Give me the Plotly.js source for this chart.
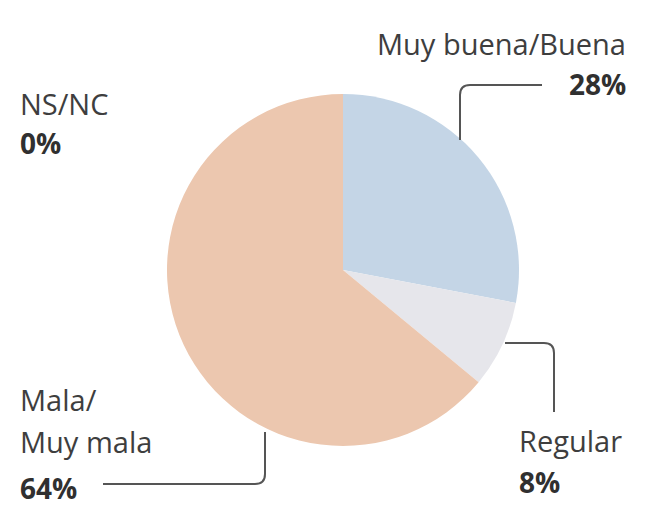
<!DOCTYPE html>
<html>
<head>
<meta charset="utf-8">
<script src="https://cdn.plot.ly/plotly-3.0.1.min.js"></script>
<style>
  body { margin: 0; background: #fff; }
  #chart { width: 657px; height: 510px; }
</style>
</head>
<body>
<div id="chart"></div>
<script>
// survey answers, clockwise from 12 o'clock
const categories = ["Muy buena/Buena", "Regular", "Mala/Muy mala", "NS/NC"];
const values = [28, 8, 64, 0];
const sliceColors = ["#c4d5e6", "#e6e6eb", "#ecc7af"];

// label placement (px from top-left) and the line breaks of each name
const nameLines = [["Muy buena/Buena"], ["Regular"], ["Mala/", "Muy mala"], ["NS/NC"]];
const labelPos = [
  { x: 628, y: 43, anchor: "right", step: 41 },
  { x: 517, y: 440, anchor: "left", step: 42 },
  { x: 18, y: 399, anchor: "left", step: 42 },
  { x: 18, y: 103, anchor: "left", step: 40 },
];

// connector lines, drawn with a rounded elbow
const connectors = [
  "M 542 85 L 470 85 Q 460 85 460 95 L 460 140",
  "M 505 343 L 544 343 Q 554 343 554 353 L 554 412",
  "M 103 484 L 255 484 Q 265 484 265 474 L 265 432",
];

const W = 657, H = 510;
const cx = 343, cy = 270, r = 176;

const annotations = [];
categories.forEach((cat, i) => {
  const p = labelPos[i];
  const lines = nameLines[i];
  lines.forEach((line, j) => {
    annotations.push({
      x: p.x, y: p.y + j * p.step, xref: "x", yref: "y",
      text: line, showarrow: false,
      xanchor: p.anchor, yanchor: "middle",
      font: { family: "Open Sans", size: 29, color: "#3e3e3e" },
    });
  });
  annotations.push({
    x: p.x, y: p.y + lines.length * p.step + (i === 2 ? 5 : 0), xref: "x", yref: "y",
    text: "<b>" + values[i] + "%</b>", showarrow: false,
    xanchor: p.anchor, yanchor: "middle",
    font: { family: "Open Sans", size: 28, color: "#303030" },
  });
});

const shapes = connectors.map(d => ({
  type: "path", path: d, xref: "x", yref: "y",
  line: { color: "#555555", width: 2 },
}));

const pieTrace = {
  type: "pie",
  labels: categories,
  values: values,
  sort: false,
  direction: "clockwise",
  rotation: 0,
  textinfo: "none",
  hoverinfo: "none",
  marker: { colors: sliceColors.concat(["#cccccc"]), line: { width: 0 } },
  domain: {
    x: [(cx - r) / W, (cx + r) / W],
    y: [(H - cy - r) / H, (H - cy + r) / H],
  },
  showlegend: false,
};

const layout = {
  width: W,
  height: H,
  margin: { l: 0, r: 0, t: 0, b: 0 },
  paper_bgcolor: "#ffffff",
  plot_bgcolor: "rgba(0,0,0,0)",
  xaxis: { range: [0, W], visible: false, fixedrange: true },
  yaxis: { range: [H, 0], visible: false, fixedrange: true },
  showlegend: false,
  annotations: annotations,
  shapes: shapes,
};

Plotly.newPlot("chart", [pieTrace], layout, { displayModeBar: false, staticPlot: true });
</script>
</body>
</html>
